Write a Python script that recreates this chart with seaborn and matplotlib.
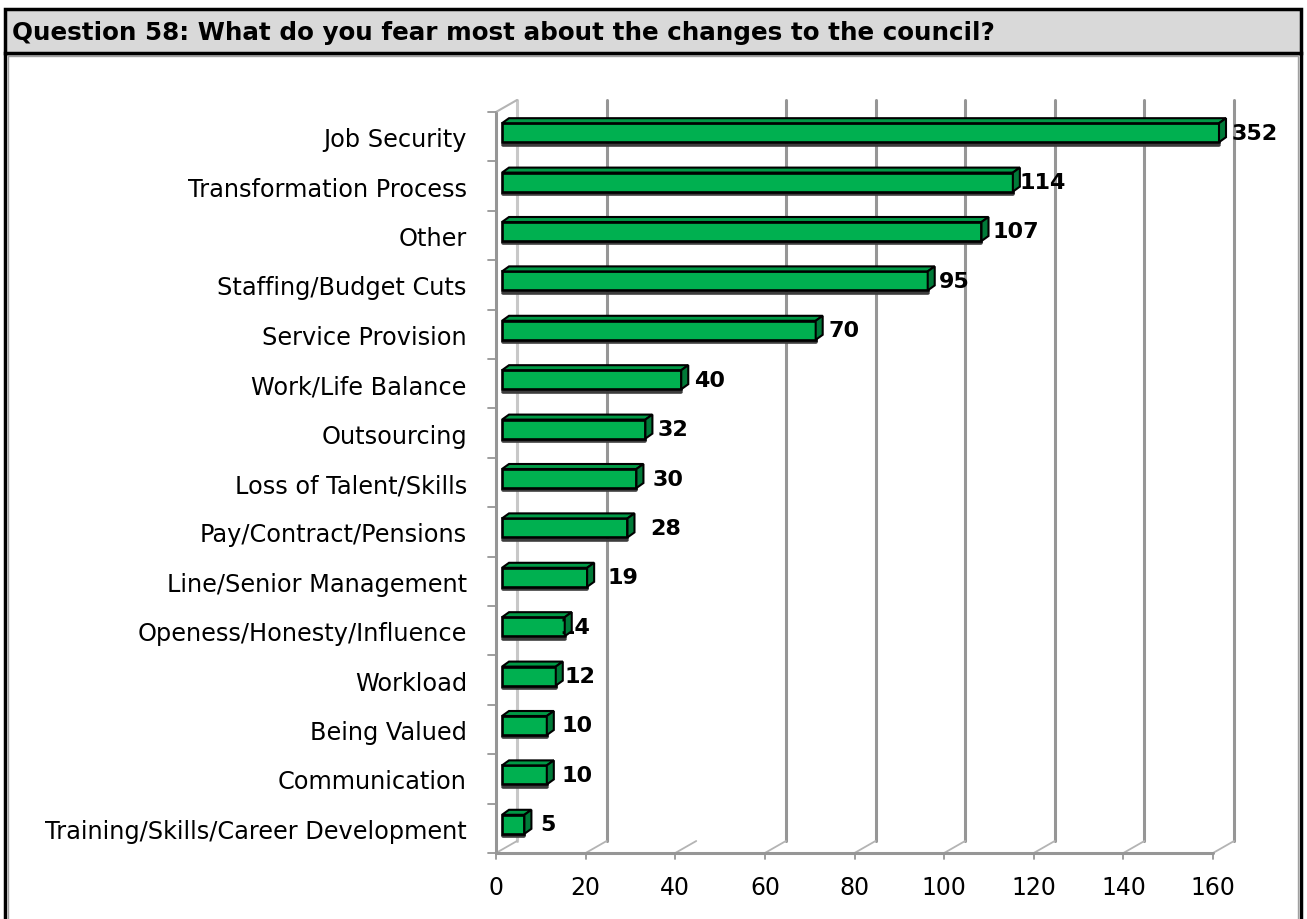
import matplotlib
matplotlib.use("Agg")
import matplotlib.pyplot as plt
from matplotlib.patches import Polygon, Rectangle
from matplotlib.lines import Line2D
from matplotlib.transforms import ScaledTranslation
import seaborn as sns
import pandas as pd

# Survey answers and counts
categories = [
    "Job Security", "Transformation Process", "Other", "Staffing/Budget Cuts",
    "Service Provision", "Work/Life Balance", "Outsourcing", "Loss of Talent/Skills",
    "Pay/Contract/Pensions", "Line/Senior Management", "Openess/Honesty/Influence",
    "Workload", "Being Valued", "Communication", "Training/Skills/Career Development",
]
counts = [352, 114, 107, 95, 70, 40, 32, 30, 28, 19, 14, 12, 10, 10, 5]
x_ticks = [0, 20, 40, 60, 80, 100, 120, 140, 160]
title = "Question 58: What do you fear most about the changes to the council?"

sns.set_theme(style="white")
plt.rcParams["font.family"] = ["DejaVu Sans"]
plt.rcParams["text.color"] = "black"
plt.rcParams["xtick.color"] = "black"
plt.rcParams["ytick.color"] = "black"
plt.rcParams["xtick.labelcolor"] = "black"
plt.rcParams["ytick.labelcolor"] = "black"

W, H = 1307, 920
fig = plt.figure(figsize=(W / 100, H / 100), dpi=100)
fig.patch.set_facecolor("white")

# frame and title band
frame = fig.add_axes([0, 0, 1, 1])
frame.set_xlim(0, W)
frame.set_ylim(H, 0)
frame.axis("off")
frame.add_patch(Rectangle((5, 54), 1296, 880, facecolor="white", edgecolor="black", lw=2.5, zorder=1))
frame.add_patch(Rectangle((8, 57), 1290, 880, facecolor="none", edgecolor="#A0A0A0", lw=1, zorder=1))
frame.add_patch(Rectangle((5, 10), 1296, 44, facecolor="#D9D9D9", edgecolor="black", lw=2.5, zorder=2))
frame.text(12, 33, title, fontsize=17.7, fontweight="bold", va="center", ha="left",
           color="black", zorder=3)

# plotting area
x0_px, x1_px, y0_px, y1_px = 496, 1213, 113, 854
ax = fig.add_axes([x0_px / W, (H - y1_px) / H, (x1_px - x0_px) / W, (y1_px - y0_px) / H])
ax.patch.set_alpha(0)

df = pd.DataFrame({"category": categories, "count": counts})
xmax = 160
sns.barplot(data=df, y="category", x="count", orient="h", color="#00B050",
            saturation=1, width=0.385, edgecolor="black", linewidth=1.9, ax=ax, zorder=3)
ax.set_xlim(0, xmax)
ax.set_ylim(len(categories) - 0.5, -0.5)
for s in ax.spines.values():
    s.set_visible(False)
ax.set_xlabel("")
ax.set_ylabel("")
ax.set_xticks(x_ticks)
ax.set_xticklabels([str(t) for t in x_ticks])
ax.tick_params(axis="x", length=0, pad=16, labelsize=17, labelcolor="black")
ax.tick_params(axis="y", length=0, pad=21, labelsize=17.3, labelcolor="black")

ux = (x1_px - x0_px) / xmax          # pixels per x unit
uy = (y1_px - y0_px) / len(categories)  # pixels per category band

# depth of the back wall and of the bars, in data units
wall_dx, wall_dy = 21 / ux, 12 / uy
bar_dx, bar_dy = 7 / ux, 5 / uy
shift = ax.transData + ScaledTranslation(6 / 100, 4 / 100, fig.dpi_scale_trans)

grid_col = "#969696"
ybot, ytop = len(categories) - 0.5, -0.5

# back-wall gridlines (the 40 line is not drawn on this wall)
for t in x_ticks:
    if t != 40:
        col = "#C8C8C8" if t == 0 else grid_col
        ax.add_line(Line2D([t + wall_dx, t + wall_dx], [ybot - wall_dy, ytop - wall_dy],
                           color=col, lw=2.2, zorder=0.5, clip_on=False))
    # floor edge from front tick to wall
    ax.add_line(Line2D([t, t + wall_dx], [ybot, ybot - wall_dy], color="#B4B4B4",
                       lw=1.3, zorder=0.6, clip_on=False))
    # tick mark below the axis
    ax.add_line(Line2D([t, t], [ybot, ybot + 6 / uy], color=grid_col, lw=1.3,
                       zorder=0.6, clip_on=False))

# front axis lines
ax.add_line(Line2D([0, xmax], [ybot, ybot], color=grid_col, lw=2.2, zorder=0.7, clip_on=False))
ax.add_line(Line2D([0, 0], [ybot, ytop], color=grid_col, lw=2.2, zorder=0.7, clip_on=False))
ax.add_line(Line2D([0, wall_dx], [ytop, ytop - wall_dy], color="#B4B4B4", lw=1.5, zorder=0.7, clip_on=False))
for k in range(len(categories) + 1):
    yb = k - 0.5
    ax.add_line(Line2D([-8 / ux, 0], [yb, yb], color=grid_col, lw=1.3, zorder=0.7, clip_on=False))

# extruded bars
label_pad = {0: 6, 1: 0, 2: 4, 3: 4, 4: 6, 5: 6, 6: 5, 7: 9, 8: 16, 9: 13,
             10: -12, 11: 2, 12: 8, 13: 8, 14: 9}
for i, (p, v) in enumerate(zip(ax.patches, counts)):
    if p.get_width() > xmax:
        p.set_width(xmax)
    p.set_transform(shift)
    bx0, by0 = p.get_x(), p.get_y()
    bw, bh = p.get_width(), p.get_height()
    bx1 = bx0 + bw
    # shadow along the bottom edge
    ax.add_line(Line2D([bx0 + 1 / ux, bx1], [by0 + bh + 2.4 / uy, by0 + bh + 2.4 / uy],
                       color="#3C3C3C", lw=2.6, transform=shift, zorder=2.5, clip_on=False))
    top = Polygon([(bx0, by0), (bx0 + bar_dx, by0 - bar_dy), (bx1 + bar_dx, by0 - bar_dy), (bx1, by0)],
                  closed=True, facecolor="#009A46", edgecolor="black", lw=1.5,
                  transform=shift, zorder=3.2, clip_on=False)
    side = Polygon([(bx1, by0), (bx1 + bar_dx, by0 - bar_dy), (bx1 + bar_dx, by0 + bh - bar_dy), (bx1, by0 + bh)],
                   closed=True, facecolor="#007A38", edgecolor="black", lw=1.5,
                   transform=shift, zorder=3.2, clip_on=False)
    ax.add_patch(top)
    ax.add_patch(side)
    p.set_clip_on(False)
    lx = bx1 + bar_dx + label_pad[i] / ux
    ax.text(lx, by0 + bh / 2, str(v), transform=shift, ha="left", va="center",
            fontsize=16, fontweight="bold", color="black",
            zorder=3.1 if label_pad[i] < 0 else 4, clip_on=False)

fig.savefig("out.png", dpi=100, facecolor="white")
